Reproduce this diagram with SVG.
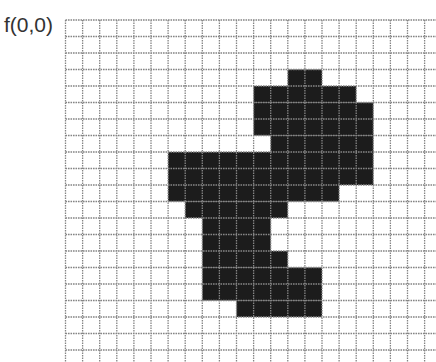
<svg xmlns="http://www.w3.org/2000/svg" width="436" height="362" viewBox="0 0 436 362">
  <style>
    .bg { fill: #ffffff; }
    .cell { fill: #1c1c1c; }
    .grid { fill: none; stroke: #858585; stroke-width: 1.3; stroke-dasharray: 1.6 0.9; }
    .label { font-family: "Liberation Sans", Arial, sans-serif; font-size: 21px; fill: #333333; }
  </style>
  <rect class="bg" x="0" y="0" width="436" height="362"/>

  <g id="pixels" transform="translate(65.5,20) scale(17.1,16.5)">
    <rect class="cell" x="13" y="3" width="2" height="1"/>
    <rect class="cell" x="11" y="4" width="6" height="1"/>
    <rect class="cell" x="11" y="5" width="7" height="2"/>
    <rect class="cell" x="12" y="7" width="6" height="1"/>
    <rect class="cell" x="6" y="8" width="12" height="2"/>
    <rect class="cell" x="6" y="10" width="10" height="1"/>
    <rect class="cell" x="7" y="11" width="6" height="1"/>
    <rect class="cell" x="8" y="12" width="4" height="2"/>
    <rect class="cell" x="8" y="14" width="5" height="1"/>
    <rect class="cell" x="8" y="15" width="7" height="2"/>
    <rect class="cell" x="10" y="17" width="5" height="1"/>
  </g>

  <g id="grid">
    <path class="grid" d="
      M65.5,20 V362 M82.6,20 V362 M99.7,20 V362 M116.8,20 V362 M133.9,20 V362 M151,20 V362
      M168.1,20 V362 M185.2,20 V362 M202.3,20 V362 M219.4,20 V362 M236.5,20 V362 M253.6,20 V362
      M270.7,20 V362 M287.8,20 V362 M304.9,20 V362 M322,20 V362 M339.1,20 V362 M356.2,20 V362
      M373.3,20 V362 M390.4,20 V362 M407.5,20 V362 M424.6,20 V362
      M65.5,20 H436 M65.5,36.5 H436 M65.5,53 H436 M65.5,69.5 H436 M65.5,86 H436 M65.5,102.5 H436
      M65.5,119 H436 M65.5,135.5 H436 M65.5,152 H436 M65.5,168.5 H436 M65.5,185 H436 M65.5,201.5 H436
      M65.5,218 H436 M65.5,234.5 H436 M65.5,251 H436 M65.5,267.5 H436 M65.5,284 H436 M65.5,300.5 H436
      M65.5,317 H436 M65.5,333.5 H436 M65.5,350 H436"/>
  </g>

  <g id="origin-label">
    <text class="label" x="4" y="32">f(0,0)</text>
  </g>
</svg>
